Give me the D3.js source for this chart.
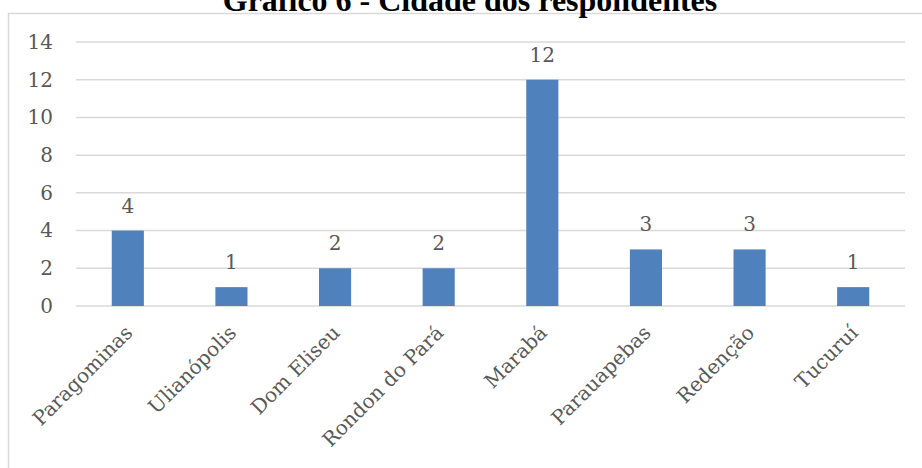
<!DOCTYPE html>
<html>
<head>
<meta charset="utf-8">
<script src="https://cdn.jsdelivr.net/npm/d3@7"></script>
<style>
  html, body { margin: 0; padding: 0; background: #fff; overflow: hidden; }
  svg { display: block; }
</style>
</head>
<body>
<svg id="chart" width="922" height="468"></svg>
<script>
const title = "Gráfico 6 - Cidade dos respondentes";
const categories = ["Paragominas", "Ulianópolis", "Dom Eliseu", "Rondon do Pará", "Marabá", "Parauapebas", "Redenção", "Tucuruí"];
const values = [4, 1, 2, 2, 12, 3, 3, 1];
const yTicks = [0, 2, 4, 6, 8, 10, 12, 14];

(function () {
const svg = d3.select("#chart");
const W = 922, H = 468;
const mLeft = 76, mRight = 905, mTop = 42, mBottom = 306;
const textColor = "#595959";
const font = "'DejaVu Serif', serif";

svg.append("rect").attr("width", W).attr("height", H).attr("fill", "#fff");

// outer chart border
svg.append("rect")
  .attr("x", 8.5).attr("y", 13.5)
  .attr("width", W + 10).attr("height", H + 10)
  .attr("fill", "none").attr("stroke", "#d9d9d9").attr("stroke-width", 1.5);

// title (partially cut at top)
svg.append("text")
  .attr("x", 470).attr("y", 11)
  .attr("text-anchor", "middle")
  .attr("font-family", "'Liberation Serif', 'Times New Roman', serif")
  .attr("font-weight", "bold")
  .attr("font-size", 32)
  .attr("fill", "#000")
  .text(title);

const x = d3.scaleBand().domain(categories).range([mLeft, mRight]).paddingInner(0.69).paddingOuter(0.345);
const y = d3.scaleLinear().domain([0, 14]).range([mBottom, mTop]);

// gridlines
svg.append("g").selectAll("line").data(yTicks).join("line")
  .attr("x1", mLeft).attr("x2", mRight)
  .attr("y1", d => y(d)).attr("y2", d => y(d))
  .attr("stroke", "#d9d9d9").attr("stroke-width", 1.5);

// y axis labels
const yAxis = d3.axisLeft(y).tickValues(yTicks).tickSize(0).tickPadding(0).tickFormat(d3.format("d"));
const gy = svg.append("g").attr("transform", "translate(53,0)").call(yAxis);
gy.select(".domain").remove();
gy.selectAll("text")
  .attr("font-family", font).attr("font-size", 20).attr("fill", textColor);

// bars
svg.append("g").selectAll("rect").data(values).join("rect")
  .attr("x", (d, i) => x(categories[i]))
  .attr("width", x.bandwidth())
  .attr("y", d => y(d))
  .attr("height", d => y(0) - y(d))
  .attr("fill", "#4f81bd");

// value labels
svg.append("g").selectAll("text").data(values).join("text")
  .attr("x", (d, i) => x(categories[i]) + x.bandwidth() / 2)
  .attr("y", d => y(d) - 18)
  .attr("text-anchor", "middle")
  .attr("font-family", font).attr("font-size", 20).attr("fill", textColor)
  .text(d => d);

// category labels
const xAxis = d3.axisBottom(x).tickSize(0).tickPadding(0);
const gx = svg.append("g").attr("transform", `translate(0,${mBottom})`).call(xAxis);
gx.select(".domain").remove();
gx.selectAll("text")
  .attr("font-family", font).attr("font-size", 20).attr("fill", textColor)
  .attr("text-anchor", "end")
  .attr("dy", 0).attr("y", 0)
  .attr("transform", "translate(6,28) rotate(-45)");
})();
</script>
</body>
</html>
